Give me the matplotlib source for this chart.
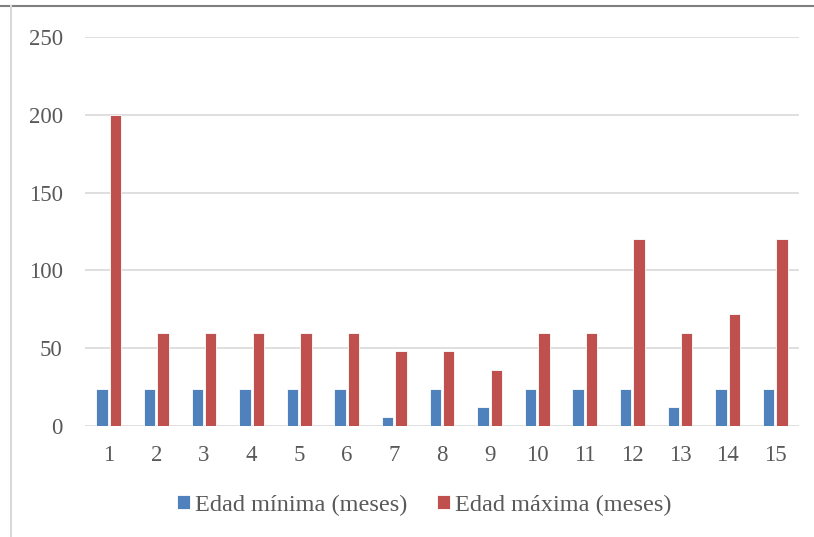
import matplotlib.pyplot as plt
import numpy as np
from matplotlib.lines import Line2D

# Categories
categorias = [str(i) for i in range(1, 16)]

# Series values
edad_min = [24, 24, 24, 24, 24, 24, 6, 24, 12, 24, 24, 24, 12, 24, 24]
edad_max = [200, 60, 60, 60, 60, 60, 48, 48, 36, 60, 60, 120, 60, 72, 120]

series = ['Edad mínima (meses)', 'Edad máxima (meses)']
colors = ['#4F81BD', '#C0504D']

plt.rcParams['font.family'] = ['Liberation Serif', 'DejaVu Serif']

fig = plt.figure(figsize=(8.14, 5.37), dpi=100)
ax = fig.add_axes([85 / 814, 1 - 426 / 537, (799 - 85) / 814, (426 - 37) / 537])

x = np.arange(len(categorias))
bar_width = 0.24
off = 0.14
ax.bar(x - off, edad_min, bar_width, color=colors[0], edgecolor='white', linewidth=0.6,
       label=series[0], zorder=3)
ax.bar(x + off, edad_max, bar_width, color=colors[1], edgecolor='white', linewidth=0.6,
       label=series[1], zorder=3)

ax.set_xlim(-0.5, len(categorias) - 0.5)
ax.set_ylim(0, 250)
ax.set_yticks(np.arange(0, 251, 50))
ax.set_xticks(x)
ax.set_xticklabels(categorias)
ax.tick_params(axis='both', length=0, labelsize=16.5, labelcolor='#595959')
ax.tick_params(axis='y', pad=16)
ax.tick_params(axis='x', pad=14)
ax.grid(True, axis='y', color='#d9d9d9', linewidth=1.2, zorder=0)
for s in ax.spines.values():
    s.set_visible(False)

# frame lines of the chart box
fig.add_artist(Line2D([0, 1], [1 - 6 / 537, 1 - 6 / 537], color='#7f7f7f', linewidth=1.5))
fig.add_artist(Line2D([11 / 814, 11 / 814], [0, 1 - 6 / 537], color='#d9d9d9', linewidth=1.5))

fig.legend(loc='center', bbox_to_anchor=(424 / 814, 1 - 505 / 537), ncol=2, frameon=False,
           fontsize=17.5, labelcolor='#595959', handlelength=0.55, handleheight=0.55,
           handletextpad=0.2, columnspacing=1.2)

fig.savefig('out.png', dpi=100)
